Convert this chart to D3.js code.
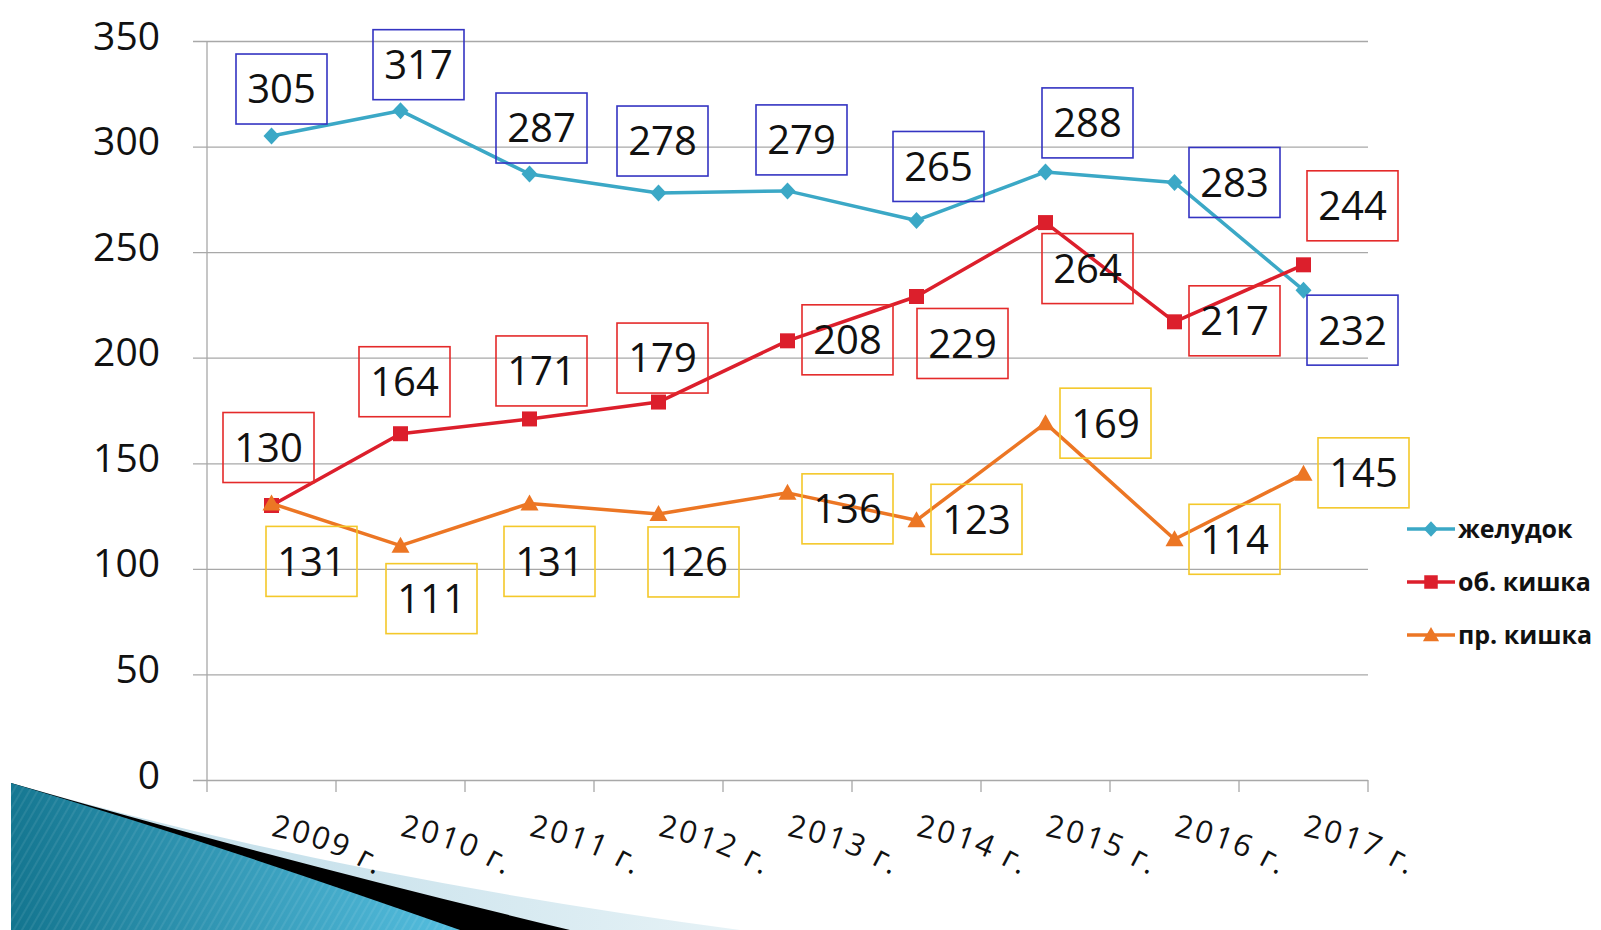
<!DOCTYPE html>
<html>
<head>
<meta charset="utf-8">
<script src="https://cdn.jsdelivr.net/npm/d3@7"></script>
<style>
  body { margin: 0; background: #fff; }
  svg { display: block; font-family: "Open Sans", sans-serif; }
</style>
</head>
<body>
<svg id="chart" width="1601" height="930"></svg>
<script>
// chart data
const years = ["2009 г.", "2010 г.", "2011 г.", "2012 г.", "2013 г.", "2014 г.", "2015 г.", "2016 г.", "2017 г."];
const seriesNames = ["желудок", "об. кишка", "пр. кишка"];
const stomach = [305, 317, 287, 278, 279, 265, 288, 283, 232];
const colon = [130, 164, 171, 179, 208, 229, 264, 217, 244];
const rectum = [131, 111, 131, 126, 136, 123, 169, 114, 145];
const yTicks = [0, 50, 100, 150, 200, 250, 300, 350];

// where each value box sits relative to its point (hand placed, like the original)
const stomachLabelOffsets = [[10, -47], [18, -46], [12, -46], [4, -52], [14, -51], [22, -54], [42, -49], [60, 0], [49, 40]];
const colonLabelOffsets = [[-3, -58], [4, -52], [12, -48], [4, -44], [60, -1], [46, 47], [42, 46], [60, -1], [49, -59]];
const rectumLabelOffsets = [[40, 58], [31, 53], [20, 58], [35, 48], [60, 16], [60, -1], [60, 0], [60, 0], [60, -1]];

const svg = d3.select("#chart");
const plotLeft = 207, plotRight = 1368, plotTop = 41, plotBottom = 780;

/**
 * Draws the slide's swoosh in the lower left corner
 */
function drawSwoosh() {
  const defs = svg.append("defs");
  const teal = defs.append("linearGradient").attr("id", "teal")
    .attr("gradientUnits", "userSpaceOnUse")
    .attr("x1", 11).attr("y1", 930).attr("x2", 460).attr("y2", 880);
  teal.append("stop").attr("offset", 0).attr("stop-color", "#13758f");
  teal.append("stop").attr("offset", 1).attr("stop-color", "#56bfe0");

  const pale = defs.append("linearGradient").attr("id", "pale")
    .attr("gradientUnits", "userSpaceOnUse")
    .attr("x1", 300).attr("y1", 0).attr("x2", 740).attr("y2", 0);
  pale.append("stop").attr("offset", 0).attr("stop-color", "#c9e2ec");
  pale.append("stop").attr("offset", 1).attr("stop-color", "#e6f2f6");

  const stripes = defs.append("pattern").attr("id", "stripes")
    .attr("patternUnits", "userSpaceOnUse")
    .attr("width", 7).attr("height", 7)
    .attr("patternTransform", "rotate(30)");
  stripes.append("rect").attr("width", 2).attr("height", 7).attr("fill", "#ffffff").attr("opacity", 0.08);

  const g = svg.append("g");
  g.append("path").attr("d", "M11,783 Q330,875 740,930 L11,930 Z").attr("fill", "url(#pale)");
  g.append("path").attr("d", "M11,783 Q260,855 570,930 L11,930 Z").attr("fill", "#000");
  g.append("path").attr("d", "M11,783 Q220,845 460,930 L11,930 Z").attr("fill", "url(#teal)");
  g.append("path").attr("d", "M11,783 Q220,845 460,930 L11,930 Z").attr("fill", "url(#stripes)");
}

drawSwoosh();

const x = d3.scaleBand().domain(years).range([plotLeft, plotRight]);
const y = d3.scaleLinear().domain([0, 350]).range([plotBottom, plotTop]);

// grid lines and y axis
const yAxis = svg.append("g")
  .attr("transform", "translate(" + plotLeft + ",0)")
  .call(d3.axisLeft(y).tickValues(yTicks).tickSize(-(plotRight - plotLeft)).tickSizeOuter(0).tickPadding(0));
yAxis.select(".domain").remove();
yAxis.selectAll(".tick line").attr("x1", -14).attr("stroke", "#a8a8a8").attr("stroke-width", 1.3);
yAxis.selectAll(".tick text").remove();
yAxis.selectAll(".tick").append("text")
  .attr("x", -47).attr("y", -6).attr("dy", "0.36em")
  .attr("text-anchor", "end")
  .attr("fill", "#111")
  .style("font-size", "39px")
  .style("font-family", "'Open Sans', sans-serif")
  .text(d => d);

svg.append("line")
  .attr("x1", plotLeft).attr("x2", plotLeft).attr("y1", plotTop).attr("y2", plotBottom)
  .attr("stroke", "#a8a8a8").attr("stroke-width", 1.3);

// x axis ticks between categories
const xBounds = years.map(d => x(d)).concat([plotRight]);
svg.append("g").selectAll("line").data(xBounds).join("line")
  .attr("x1", d => d).attr("x2", d => d)
  .attr("y1", plotBottom).attr("y2", plotBottom + 12)
  .attr("stroke", "#a8a8a8").attr("stroke-width", 1.3);

// curved year labels, like the WordArt in the original
const labelDefs = svg.append("defs");
const r = 310, a0 = 10 * Math.PI / 180, a1 = 44 * Math.PI / 180;
years.forEach((d, i) => {
  const x0 = x(d) + x.bandwidth() / 2 - 1, y0 = 836;
  const cx = x0 - r * Math.sin(a0), cy = y0 + r * Math.cos(a0);
  const x1 = cx + r * Math.sin(a1), y1 = cy - r * Math.cos(a1);
  labelDefs.append("path").attr("id", "yr" + i)
    .attr("d", `M${x0},${y0} A${r},${r} 0 0 1 ${x1},${y1}`);
});
svg.append("g").selectAll("text").data(years).join("text")
  .style("font-size", "31px")
  .style("letter-spacing", "2px")
  .attr("fill", "#111")
  .append("textPath")
  .attr("href", (d, i) => "#yr" + i)
  .text(d => d);

const cxOf = i => x(years[i]) + x.bandwidth() / 2;

const series = [
  { name: seriesNames[0], values: stomach, offsets: stomachLabelOffsets, color: "#3ba8c6", box: "#3434c2", marker: "diamond" },
  { name: seriesNames[1], values: colon, offsets: colonLabelOffsets, color: "#dc1f2c", box: "#e42a2a", marker: "square" },
  { name: seriesNames[2], values: rectum, offsets: rectumLabelOffsets, color: "#ec7624", box: "#f4c82a", marker: "triangle" }
];

function markerPath(kind) {
  if (kind === "diamond") return "M0,-8.5 L8,0 L0,8.5 L-8,0 Z";
  if (kind === "square") return "M-7.5,-7.5 H7.5 V7.5 H-7.5 Z";
  return "M0,-9 L9,7 L-9,7 Z";
}

const line = d3.line().x((d, i) => cxOf(i)).y(d => y(d));

series.forEach(s => {
  svg.append("path")
    .datum(s.values)
    .attr("d", line)
    .attr("fill", "none")
    .attr("stroke", s.color)
    .attr("stroke-width", 3.5)
    .attr("stroke-linejoin", "round");
  svg.append("g").selectAll("path").data(s.values).join("path")
    .attr("d", markerPath(s.marker))
    .attr("transform", (d, i) => "translate(" + cxOf(i) + "," + y(d) + ")")
    .attr("fill", s.color);
});

// value boxes
const boxW = 91, boxH = 70;
series.forEach(s => {
  const g = svg.append("g").selectAll("g").data(s.values).join("g")
    .attr("transform", (d, i) => "translate(" + (cxOf(i) + s.offsets[i][0]) + "," + (y(d) + s.offsets[i][1]) + ")");
  g.append("rect")
    .attr("x", -boxW / 2).attr("y", -boxH / 2)
    .attr("width", boxW).attr("height", boxH)
    .attr("fill", "none")
    .attr("stroke", s.box)
    .attr("stroke-width", 1.6);
  g.append("text")
    .attr("text-anchor", "middle")
    .attr("dy", "0.36em")
    .attr("fill", "#111")
    .style("font-size", "40px")
    .text(d => d);
});

// legend
const legendY = [529, 582, 635];
const legend = svg.append("g").selectAll("g").data(series).join("g")
  .attr("transform", (d, i) => "translate(1407," + legendY[i] + ")");
legend.append("line")
  .attr("x1", 0).attr("x2", 48)
  .attr("stroke", d => d.color).attr("stroke-width", 3.5);
legend.append("path")
  .attr("d", d => markerPath(d.marker))
  .attr("transform", "translate(24,0) scale(0.9)")
  .attr("fill", d => d.color);
legend.append("text")
  .attr("x", 51).attr("dy", "0.34em")
  .attr("fill", "#111")
  .style("font-size", "25px")
  .style("font-weight", "bold")
  .text(d => d.name);
</script>
</body>
</html>
